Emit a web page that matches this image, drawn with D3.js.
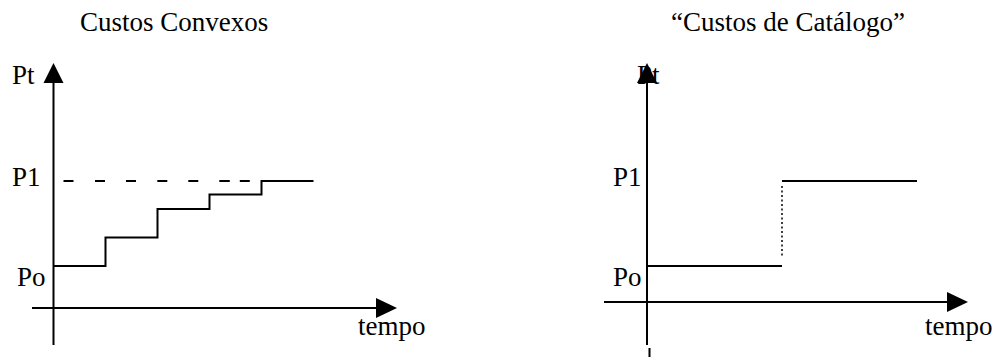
<!DOCTYPE html>
<html>
<head>
<meta charset="utf-8">
<script src="https://cdn.jsdelivr.net/npm/d3@7"></script>
<style>
  body { margin: 0; background: #fff; }
  text { font-family: "Liberation Serif", "Times New Roman", serif; fill: #000; }
</style>
</head>
<body>
<div id="d3-container"></div>
<script>
/**
 * DATA
 * */
const titles = ["Custos Convexos", "\u201cCustos de Cat\u00e1logo\u201d"];
const priceLabels = ["Pt", "P1", "Po"];
const axisLabel = "tempo";

// left panel: gradual steps from Po (1) to P1 (3)
const convexTimes = [0, 1, 2, 3, 4, 5];
const convexPrices = [1, 1.67, 2.34, 2.68, 3, 3];
const convexRefEnd = 4; // dashed P1 line ends where the last step starts

// right panel: one jump from Po to P1
const menuTimes = [0, 2.5, 5];
const menuPrices = [1, 3, 3];

const P0 = 1, P1 = 3;

/**
 * LAYOUT
 * */
const width = 998, height = 357;

const panels = [
  { title: titles[0], tx: 80, axisX: 53.5, endX: 313.5, axisY: 308, xFrom: 32, xTip: 397, yBottom: 345,
    times: convexTimes, prices: convexPrices, kind: "convex" },
  { title: titles[1], tx: 671, axisX: 647, endX: 917, axisY: 302, xFrom: 604, xTip: 968, yBottom: 345,
    times: menuTimes, prices: menuPrices, kind: "menu" }
];

const svg = d3.select("#d3-container")
  .append("svg")
  .attr("width", width)
  .attr("height", height);

const yScale = d3.scaleLinear().domain([P0, P1]).range([266, 181]);

panels.forEach(p => {
  const g = svg.append("g");
  const x = d3.scaleLinear().domain([0, 5]).range([p.axisX, p.endX]);

  // title
  g.append("text")
    .attr("x", p.tx)
    .attr("y", 31)
    .attr("font-size", 27)
    .text(p.title);

  // axes
  g.append("line")
    .attr("x1", p.axisX).attr("x2", p.axisX)
    .attr("y1", 80).attr("y2", p.yBottom)
    .attr("stroke", "#000").attr("stroke-width", 2);
  g.append("line")
    .attr("x1", p.xFrom).attr("x2", p.xTip - 18)
    .attr("y1", p.axisY).attr("y2", p.axisY)
    .attr("stroke", "#000").attr("stroke-width", 2);

  // arrow heads
  g.append("path")
    .attr("d", `M${p.axisX},63 L${p.axisX - 10},83 L${p.axisX + 10},83 Z`)
    .attr("fill", "#000");
  g.append("path")
    .attr("d", `M${p.xTip},${p.axisY} L${p.xTip - 21},${p.axisY - 10} L${p.xTip - 21},${p.axisY + 10} Z`)
    .attr("fill", "#000");

  // labels
  const lx = p.kind === "convex" ? 12 : 613;
  g.append("text").attr("x", p.kind === "convex" ? 12 : 637).attr("y", 84)
    .attr("font-size", 27).text(priceLabels[0]);
  g.append("text").attr("x", lx).attr("y", 186)
    .attr("font-size", 27).text(priceLabels[1]);
  g.append("text").attr("x", p.kind === "convex" ? 17 : lx).attr("y", 286)
    .attr("font-size", 27).text(priceLabels[2]);
  g.append("text").attr("x", p.kind === "convex" ? 358 : 925).attr("y", 335)
    .attr("font-size", 27).text(axisLabel);

  if (p.kind === "convex") {
    const pts = p.times.map((t, i) => [t, p.prices[i]]);
    const line = d3.line()
      .x(d => x(d[0]))
      .y(d => yScale(d[1]))
      .curve(d3.curveStepAfter);
    g.append("path")
      .attr("d", line(pts))
      .attr("fill", "none")
      .attr("stroke", "#000")
      .attr("stroke-width", 2);

    // dashed P1 reference (last two dashes sit closer, as in the original)
    g.append("line")
      .attr("x1", x(0) + 10).attr("x2", x(convexRefEnd))
      .attr("y1", yScale(P1)).attr("y2", yScale(P1))
      .attr("stroke", "#000").attr("stroke-width", 2)
      .attr("stroke-dasharray", "10,21.5,10,21,10,21.3,10,21,10,21,10.5,10,10,30");
  } else {
    // Po segment, P1 segment
    g.append("line")
      .attr("x1", x(p.times[0])).attr("x2", x(p.times[1]))
      .attr("y1", yScale(p.prices[0])).attr("y2", yScale(p.prices[0]))
      .attr("stroke", "#000").attr("stroke-width", 2);
    g.append("line")
      .attr("x1", x(p.times[1])).attr("x2", x(p.times[2]))
      .attr("y1", yScale(p.prices[1])).attr("y2", yScale(p.prices[1]))
      .attr("stroke", "#000").attr("stroke-width", 2);
    // dotted jump
    g.append("line")
      .attr("x1", x(p.times[1])).attr("x2", x(p.times[1]))
      .attr("y1", yScale(p.prices[1]) + 5).attr("y2", yScale(p.prices[0]) - 8)
      .attr("stroke", "#000").attr("stroke-width", 1.5)
      .attr("stroke-dasharray", "2,2.5");
    // small stray tick below the y axis
    g.append("line")
      .attr("x1", p.axisX + 2.5).attr("x2", p.axisX + 2.5)
      .attr("y1", 348).attr("y2", 357)
      .attr("stroke", "#000").attr("stroke-width", 2);
  }
});
</script>
</body>
</html>
